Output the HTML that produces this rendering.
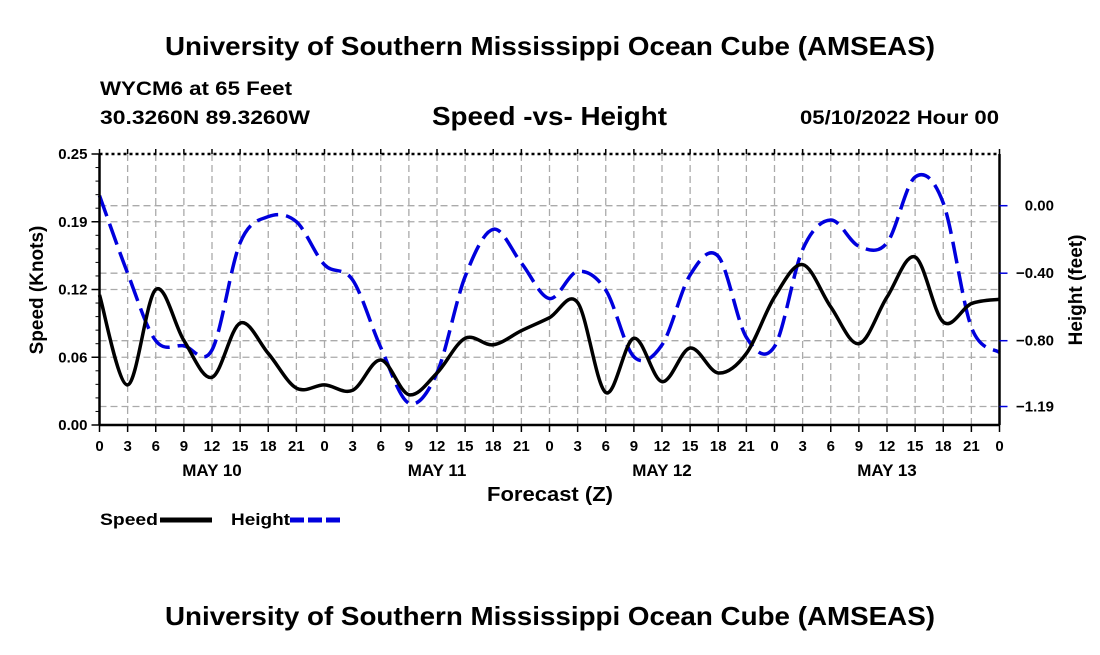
<!DOCTYPE html>
<html><head><meta charset="utf-8"><style>
body{margin:0;background:#fff;}
svg text{font-family:"Liberation Sans",Arial,sans-serif;font-weight:bold;fill:#000;}
</style></head><body>
<svg id="chart" width="1100" height="650" viewBox="0 0 1100 650" xmlns="http://www.w3.org/2000/svg">
<text x="165" y="55" font-size="26" textLength="770" lengthAdjust="spacingAndGlyphs">University of Southern Mississippi Ocean Cube (AMSEAS)</text>
<text x="100" y="95" font-size="19" textLength="192" lengthAdjust="spacingAndGlyphs">WYCM6 at 65 Feet</text>
<text x="100" y="124" font-size="19" textLength="210" lengthAdjust="spacingAndGlyphs">30.3260N  89.3260W</text>
<text x="432" y="125" font-size="26" textLength="235" lengthAdjust="spacingAndGlyphs">Speed -vs- Height</text>
<text x="800" y="124" font-size="19" textLength="199" lengthAdjust="spacingAndGlyphs">05/10/2022 Hour 00</text>
<g id="grid"></g>
<g id="series"></g>
<g id="axes"></g>
<text transform="translate(43,290) rotate(-90)" font-size="19" text-anchor="middle">Speed (Knots)</text>
<text transform="translate(1082,290) rotate(-90)" font-size="19" text-anchor="middle">Height (feet)</text>
<text x="487" y="501" font-size="20" textLength="126" lengthAdjust="spacingAndGlyphs">Forecast (Z)</text>
<g>
<text x="100" y="525" font-size="17" textLength="58" lengthAdjust="spacingAndGlyphs">Speed</text>
<line x1="160" y1="520" x2="212" y2="520" stroke="#000" stroke-width="5"/>
<text x="231" y="525" font-size="17" textLength="59" lengthAdjust="spacingAndGlyphs">Height</text>
<line x1="290" y1="520" x2="342" y2="520" stroke="#0000dd" stroke-width="5" stroke-dasharray="14,4"/>
</g>
<text x="165" y="625" font-size="26" textLength="770" lengthAdjust="spacingAndGlyphs">University of Southern Mississippi Ocean Cube (AMSEAS)</text>
</svg>
<script>
const hours = [0,3,6,9,12,15,18,21,24,27,30,33,36,39,42,45,48,51,54,57,60,63,66,69,72,75,78,81,84,87,90,93,96];
const speedValues = [0.120,0.037,0.125,0.078,0.044,0.094,0.066,0.034,0.037,0.032,0.060,0.028,0.048,0.080,0.074,0.087,0.099,0.113,0.030,0.080,0.040,0.071,0.048,0.066,0.118,0.148,0.109,0.075,0.118,0.155,0.095,0.112,0.116];
const heightValues = [0.06,-0.40,-0.80,-0.83,-0.855,-0.22,-0.065,-0.095,-0.35,-0.44,-0.84,-1.17,-0.99,-0.42,-0.14,-0.34,-0.55,-0.39,-0.50,-0.895,-0.825,-0.41,-0.30,-0.78,-0.835,-0.26,-0.085,-0.24,-0.22,0.17,0.016,-0.72,-0.87];
const leftTicks = [0,0.0625,0.125,0.1875,0.25];
const leftTickLabels = ["0.00","0.06","0.12","0.19","0.25"];
const rightTicks = [0,-0.4,-0.8,-1.19];
const rightTickLabels = ["0.00","\u22120.40","\u22120.80","\u22121.19"];
const dayLabels = ["MAY 10","MAY 11","MAY 12","MAY 13"];

const X0=99.5,X1=999.5,Y0=425,Y1=154;
const xs=h=>X0+(X1-X0)*h/96;
const yL=v=>Y0-(Y0-Y1)*v/0.25;
const yR=v=>205.7-168.75*v;
const NS="http://www.w3.org/2000/svg";
function mk(tag,attrs,parent){const e=document.createElementNS(NS,tag);for(const k in attrs)e.setAttribute(k,attrs[k]);parent.appendChild(e);return e;}
const gridG=document.getElementById('grid'),axesG=document.getElementById('axes'),seriesG=document.getElementById('series');

for(let h=3;h<96;h+=3){
  const l=mk('line',{x1:xs(h),x2:xs(h),y1:Y1,y2:Y0,stroke:'#aaa','stroke-width':1.3,'stroke-dasharray':'7,4'},gridG);
  
  
}
leftTicks.slice(1,4).forEach(v=>{
  const l=mk('line',{x1:X0,x2:X1,y1:yL(v),y2:yL(v),stroke:'#aaa','stroke-width':1.3,'stroke-dasharray':'7,4'},gridG);
  
  
});
rightTicks.forEach(v=>{
  const l=mk('line',{x1:X0,x2:X1,y1:yR(v),y2:yR(v),stroke:'#aaa','stroke-width':1.3,'stroke-dasharray':'7,4'},gridG);
  
  
});

function smoothPath(vals,yf){
  const p=hours.map((h,i)=>[xs(h),yf(vals[i])]);
  let d='M'+p[0][0]+','+p[0][1];
  for(let i=0;i<p.length-1;i++){
    const a=p[Math.max(0,i-1)],b=p[i],c=p[i+1],e=p[Math.min(p.length-1,i+2)];
    const c1=[b[0]+(c[0]-a[0])/6,b[1]+(c[1]-a[1])/6],c2=[c[0]-(e[0]-b[0])/6,c[1]-(e[1]-b[1])/6];
    d+=` C${c1[0]},${c1[1]} ${c2[0]},${c2[1]} ${c[0]},${c[1]}`;
  }
  return d;
}
const hp=mk('path',{d:smoothPath(heightValues,yR),fill:'none',stroke:'#0000dd','stroke-width':3.5,'stroke-dasharray':'22,8'},seriesG);


const sp=mk('path',{d:smoothPath(speedValues,yL),fill:'none',stroke:'#000','stroke-width':3.5},seriesG);



[[X0,Y0,X1,Y0],[X0,Y1,X0,Y0],[X1,Y1,X1,Y0]].forEach(c=>{
  const l=mk('line',{x1:c[0],y1:c[1],x2:c[2],y2:c[3],stroke:'#000','stroke-width':2.5},axesG);
  
  
});
const topLine=mk('line',{x1:X0,y1:Y1,x2:X1,y2:Y1,stroke:'#000','stroke-width':2.5,'stroke-dasharray':'3,3'},axesG);


for(let h=0;h<=96;h+=3){
  const t=mk('line',{x1:xs(h),x2:xs(h),y1:Y0,y2:Y0+7,stroke:'#000','stroke-width':1.5},axesG);
  
  
  const t2=mk('line',{x1:xs(h),x2:xs(h),y1:Y1-5,y2:Y1,stroke:'#000','stroke-width':1.5},axesG);
  
  
  const tx=mk('text',{x:xs(h),y:451,'font-size':15,'text-anchor':'middle'},axesG);
  tx.textContent=String(h%24);
  
  
}
dayLabels.forEach((s,i)=>{
  const tx=mk('text',{x:xs(12+24*i),y:476,'font-size':17,'text-anchor':'middle'},axesG);
  tx.textContent=s;
  
  
});
for(let v=0;v<=0.25001;v+=0.0125){
  const t=mk('line',{x1:X0-4,x2:X0,y1:yL(v),y2:yL(v),stroke:'#000','stroke-width':1},axesG);
  
  
}
leftTicks.forEach((v,i)=>{
  const t=mk('line',{x1:X0-8,x2:X0,y1:yL(v),y2:yL(v),stroke:'#000','stroke-width':1.5},axesG);
  
  
  const tx=mk('text',{x:X0-12,y:yL(v)+5,'font-size':15,'text-anchor':'end'},axesG);
  tx.textContent=leftTickLabels[i];
  
  
});
rightTicks.forEach((v,i)=>{
  const t=mk('line',{x1:X1,x2:X1+8,y1:yR(v),y2:yR(v),stroke:'#0000dd','stroke-width':1.5},axesG);
  
  
  const tx=mk('text',{x:1054,y:yR(v)+5,'font-size':15,'text-anchor':'end'},axesG);
  tx.textContent=rightTickLabels[i];
  
  
});
</script>
</body></html>
